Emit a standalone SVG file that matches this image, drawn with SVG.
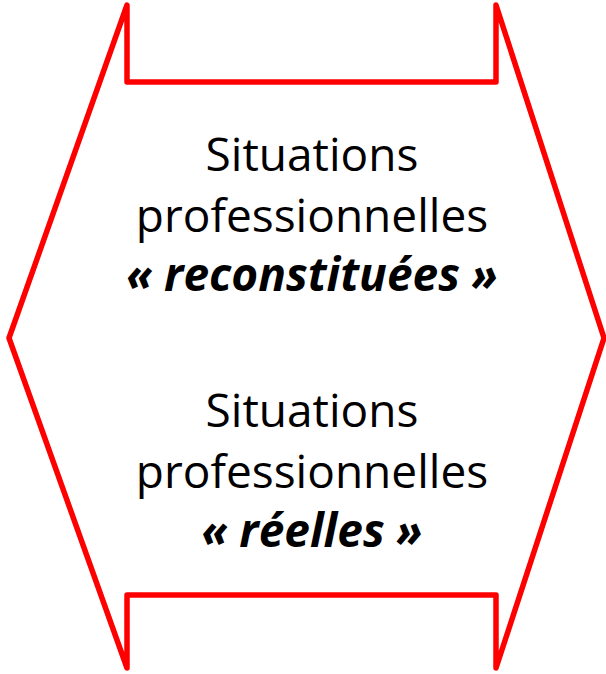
<svg xmlns="http://www.w3.org/2000/svg" width="606" height="674" viewBox="0 0 606 674">
<style>
.shape{fill:#fff;stroke:#ff0000;stroke-width:5.5;stroke-linejoin:round}
.t{font-family:"Open Sans","Liberation Sans",sans-serif;font-size:46px;fill:#000;text-anchor:middle}
.q{font-weight:bold;font-style:italic}
</style>
<rect width="606" height="674" fill="#fff"/>
<g id="double-arrow">
<path class="shape" d="M127,5 L127,82 L496,82 L496,5 L604,338 L496,668 L496,595 L127,595 L127,668 L9,338 Z"/>
</g>
<g id="label-reconstituees">
<text class="t" x="312" y="171">Situations</text>
<text class="t" x="312" y="232">professionnelles</text>
<text class="t q" x="312" y="291">« reconstituées »</text>
</g>
<g id="label-reelles">
<text class="t" x="312" y="427">Situations</text>
<text class="t" x="312" y="488">professionnelles</text>
<text class="t q" x="312" y="547">« réelles »</text>
</g>
</svg>
